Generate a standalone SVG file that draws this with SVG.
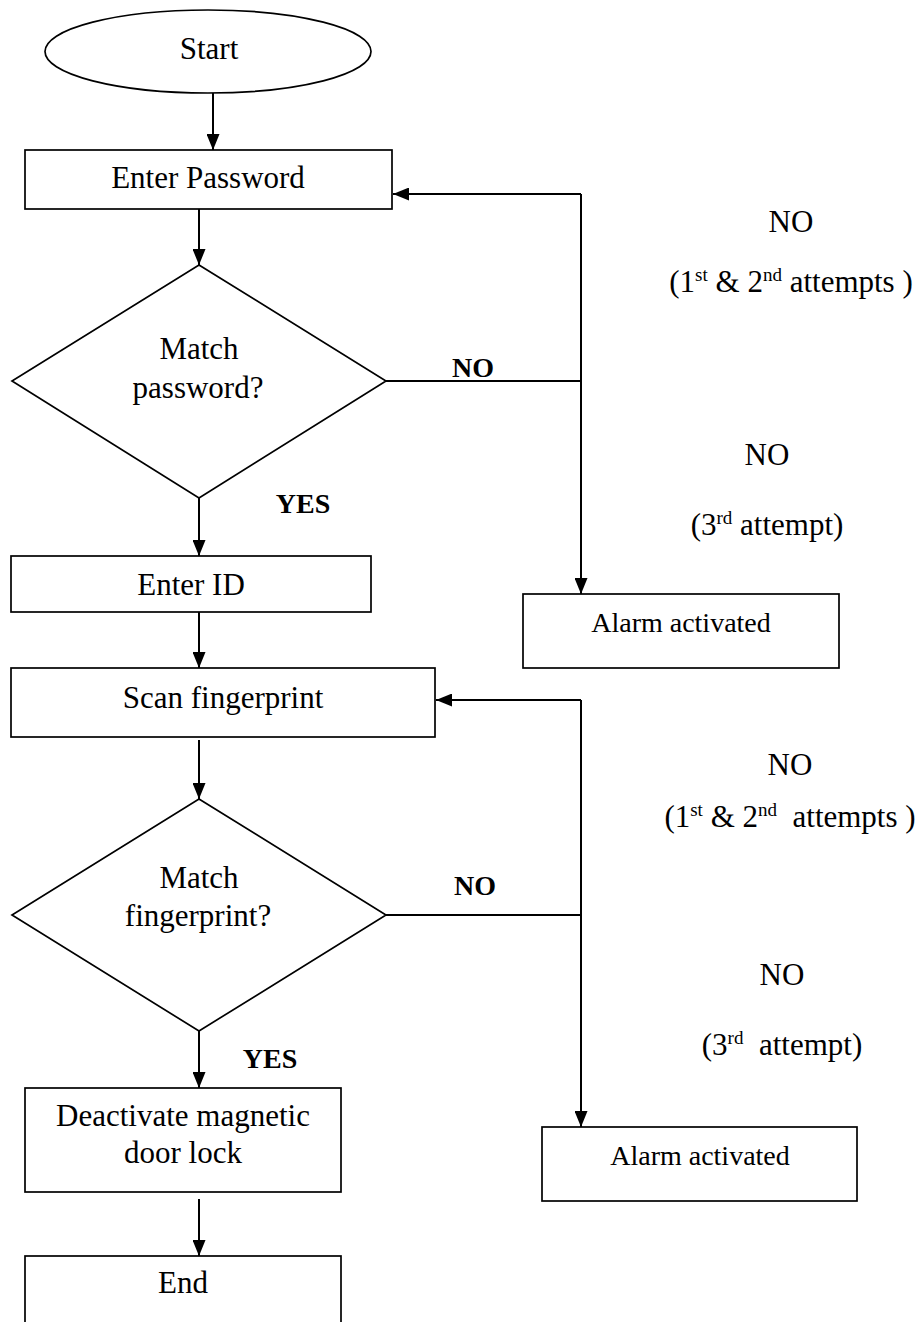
<svg xmlns="http://www.w3.org/2000/svg" width="923" height="1322" viewBox="0 0 923 1322">
<defs>
<style>
.t{font-family:"Liberation Serif","Times New Roman",serif;font-size:31px;fill:#000;text-anchor:middle}
.a{font-family:"Liberation Serif","Times New Roman",serif;font-size:28px;fill:#000;text-anchor:middle}
.b{font-family:"Liberation Serif","Times New Roman",serif;font-size:28px;font-weight:bold;fill:#000;text-anchor:middle}
.s{fill:#fff;stroke:#000;stroke-width:1.7}
.c{fill:none;stroke:#000;stroke-width:2}
</style>
<marker id="ah" viewBox="0 0 16 13" refX="16" refY="6.5" markerWidth="16" markerHeight="13" markerUnits="userSpaceOnUse" orient="auto">
<path d="M0,0 L16,6.5 L0,13 Z" fill="#000"/>
</marker>
</defs>
<rect width="923" height="1322" fill="#fff"/>

<g id="connectors">
<line class="c" x1="213" y1="93" x2="213" y2="150" marker-end="url(#ah)"/>
<line class="c" x1="199" y1="209" x2="199" y2="265" marker-end="url(#ah)"/>
<line class="c" x1="199" y1="498" x2="199" y2="556" marker-end="url(#ah)"/>
<line class="c" x1="199" y1="612" x2="199" y2="668" marker-end="url(#ah)"/>
<line class="c" x1="199" y1="740" x2="199" y2="799" marker-end="url(#ah)"/>
<line class="c" x1="199" y1="1031" x2="199" y2="1088" marker-end="url(#ah)"/>
<line class="c" x1="199" y1="1199" x2="199" y2="1256" marker-end="url(#ah)"/>
<polyline class="c" points="386,381 581,381"/>
<polyline class="c" points="581,194 581,594" marker-end="url(#ah)"/>
<polyline class="c" points="581,194 393,194" marker-end="url(#ah)"/>
<polyline class="c" points="386,915 581,915"/>
<polyline class="c" points="581,700 581,1127" marker-end="url(#ah)"/>
<polyline class="c" points="581,700 436,700" marker-end="url(#ah)"/>
<text class="b" x="473" y="377">NO</text>
<text class="b" x="303" y="513">YES</text>
<text class="b" x="475" y="895">NO</text>
<text class="b" x="270" y="1068">YES</text>
<text class="t" x="791" y="232">NO</text>
<text class="t" x="791" y="292">(1<tspan dy="-11" font-size="19">st</tspan><tspan dy="11"> &amp; 2</tspan><tspan dy="-11" font-size="19">nd</tspan><tspan dy="11"> attempts )</tspan></text>
<text class="t" x="767" y="465">NO</text>
<text class="t" x="767" y="535">(3<tspan dy="-11" font-size="19">rd</tspan><tspan dy="11"> attempt)</tspan></text>
<text class="t" x="790" y="775">NO</text>
<text class="t" x="790" y="827">(1<tspan dy="-11" font-size="19">st</tspan><tspan dy="11"> &amp; 2</tspan><tspan dy="-11" font-size="19">nd</tspan><tspan dy="11" xml:space="preserve">  attempts )</tspan></text>
<text class="t" x="782" y="985">NO</text>
<text class="t" x="782" y="1055">(3<tspan dy="-11" font-size="19">rd</tspan><tspan dy="11" xml:space="preserve">  attempt)</tspan></text>
</g>

<g id="start">
<ellipse class="s" cx="208" cy="51.5" rx="163" ry="41.5"/>
<text class="t" x="209" y="59">Start</text>
</g>
<g id="enter-password">
<rect class="s" x="25" y="150" width="367" height="59"/>
<text class="t" x="208" y="188">Enter Password</text>
</g>
<g id="match-password">
<polygon class="s" points="199,265 386,381 199,498 12,381"/>
<text class="t" x="199" y="359">Match</text>
<text class="t" x="198" y="398">password?</text>
</g>
<g id="enter-id">
<rect class="s" x="11" y="556" width="360" height="56"/>
<text class="t" x="191" y="595">Enter ID</text>
</g>
<g id="alarm-1">
<rect class="s" x="523" y="594" width="316" height="74"/>
<text class="a" x="681" y="632">Alarm activated</text>
</g>
<g id="scan-fingerprint">
<rect class="s" x="11" y="668" width="424" height="69"/>
<text class="t" x="223" y="708">Scan fingerprint</text>
</g>
<g id="match-fingerprint">
<polygon class="s" points="199,799 386,915 199,1031 12,915"/>
<text class="t" x="199" y="888">Match</text>
<text class="t" x="198" y="926">fingerprint?</text>
</g>
<g id="alarm-2">
<rect class="s" x="542" y="1127" width="315" height="74"/>
<text class="a" x="700" y="1165">Alarm activated</text>
</g>
<g id="deactivate">
<rect class="s" x="25" y="1088" width="316" height="104"/>
<text class="t" x="183" y="1126">Deactivate magnetic</text>
<text class="t" x="183" y="1163">door lock</text>
</g>
<g id="end">
<rect class="s" x="25" y="1256" width="316" height="80"/>
<text class="t" x="183" y="1293">End</text>
</g>
</svg>
